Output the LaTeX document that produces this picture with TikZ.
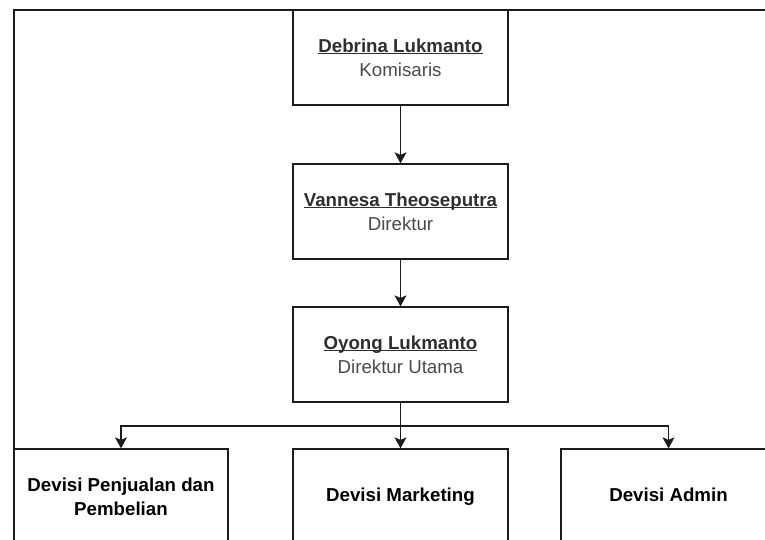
\documentclass[tikz,border=0pt]{standalone}
\usepackage{fontspec}
\setmainfont{Liberation Sans}
\usetikzlibrary{arrows.meta}

\definecolor{namecol}{HTML}{2E2E2E}
\definecolor{rolecol}{HTML}{4A4A4A}
\definecolor{edgecol}{HTML}{1C1C1C}

% underline drawn at a fixed distance below the baseline
\newcommand{\nameline}[1]{\setbox0\hbox{#1}\rlap{\rule[-2pt]{\wd0}{1.1pt}}\box0}

\tikzset{
  orgbox/.style={draw=edgecol, line width=1.3pt, rectangle,
    minimum width=215pt, minimum height=95pt, inner sep=0pt,
    align=center, font=\fontsize{18.7}{24}\selectfont},
  unitbox/.style={orgbox, font=\fontsize{18.7}{24}\selectfont\bfseries},
  oneline/.style={text height=13.5pt, text depth=4pt},
  conn/.style={draw=edgecol, line width=1.3pt,
    -{Stealth[length=11pt,width=12pt,inset=2.5pt]}},
  frameline/.style={draw=edgecol, line width=2pt},
}

\begin{document}
\begin{tikzpicture}[x=1pt, y=-1pt]
\useasboundingbox (0,0) rectangle (765,540);

% outer frame
\draw[frameline] (14,540) -- (14,10) -- (765,10);

% hierarchy
\node[orgbox] (kom) at (400.5,57.5)
  {\textcolor{namecol}{\bfseries\nameline{Debrina Lukmanto}}\\\textcolor{rolecol}{Komisaris}};
\node[orgbox] (dir) at (400.5,211.5)
  {\textcolor{namecol}{\bfseries\nameline{Vannesa Theoseputra}}\\\textcolor{rolecol}{Direktur}};
\node[orgbox] (dirut) at (400.5,354.5)
  {\textcolor{namecol}{\bfseries\nameline{Oyong Lukmanto}}\\\textcolor{rolecol}{Direktur Utama}};

\node[unitbox, minimum width=214pt] (jual) at (121,496.5)
  {Devisi Penjualan dan\\Pembelian};
\node[unitbox, oneline] (mkt) at (400.5,496.5) {Devisi Marketing};
\node[unitbox, oneline] (adm) at (668.5,496.5) {Devisi Admin};

% connectors
\coordinate (split) at (400.5,426);
\draw[conn] (kom.south) -- (dir.north);
\draw[conn] (dir.south) -- (dirut.north);
\draw[conn] (dirut.south) -- (mkt.north);
\draw[conn] (split) -| (jual.north);
\draw[conn] (split) -| (adm.north);
\end{tikzpicture}
\end{document}
